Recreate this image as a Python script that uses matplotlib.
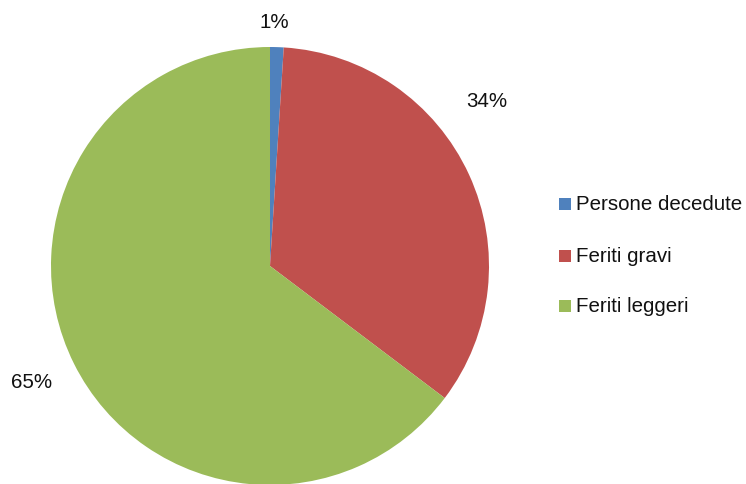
import matplotlib
matplotlib.use("Agg")
import matplotlib.pyplot as plt
from matplotlib.patches import Rectangle

categories = ["Persone decedute", "Feriti gravi", "Feriti leggeri"]
values = [1.0, 34.3, 64.7]
pct_labels = ["1%", "34%", "65%"]
colors = ["#4F81BD", "#C0504D", "#9BBB59"]

plt.rcParams['font.family'] = ['Liberation Sans', 'DejaVu Sans']

W, H = 746, 484
fig = plt.figure(figsize=(W / 100, H / 100), dpi=100)
cx, cy, r = 270, 266, 219
ax = fig.add_axes([(cx - r) / W, (H - cy - r) / H, 2 * r / W, 2 * r / H])
ax.axis('off')

wedges, _ = ax.pie(values, colors=colors, startangle=90, counterclock=False,
                   radius=1, center=(0, 0), frame=False,
                   wedgeprops=dict(edgecolor='none', linewidth=0))
ax.set_xlim(-1, 1)
ax.set_ylim(-1, 1)
ax.set_aspect('auto')

label_pos = [(0.018, 1.114), (0.991, 0.753), (-1.087, -0.530)]
for txt, (x, y) in zip(pct_labels, label_pos):
    ax.text(x, y, txt, ha='center', va='center', fontsize=14.8,
            color='#111111', clip_on=False)

# legend
rows_y = [204, 256, 306]
for cat, col, yy in zip(categories, colors, rows_y):
    fig.patches.append(Rectangle((559 / W, (H - yy - 6) / H), 12 / W, 12 / H,
                                 transform=fig.transFigure, facecolor=col,
                                 edgecolor='none'))
    fig.text(576 / W, (H - yy) / H, cat, ha='left', va='center',
             fontsize=14.8, color='#111111')

fig.savefig("out.png", dpi=100)
